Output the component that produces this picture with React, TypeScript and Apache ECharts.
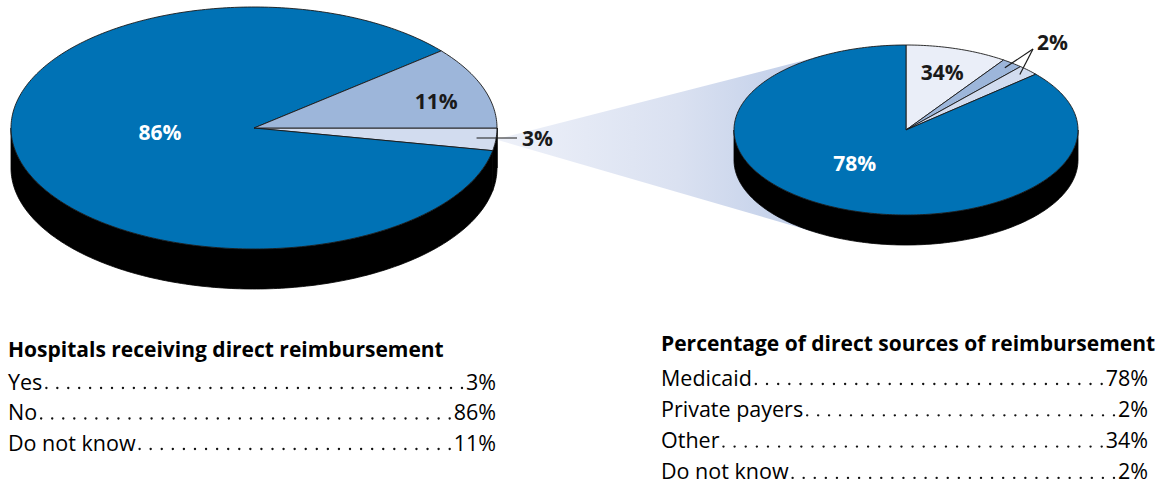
import React, { useEffect, useRef } from "react";
import * as echarts from "echarts";

// ---------- data ----------
const leftTitle = "Hospitals receiving direct reimbursement";
const leftNames = ["Yes", "No", "Do not know"];
const leftValues = [3, 86, 11];

const rightTitle = "Percentage of direct sources of reimbursement";
const rightNames = ["Medicaid", "Private payers", "Other", "Do not know"];
const rightValues = [78, 2, 34, 2];
// angular share of each slice as drawn in the published picture (its pie is not proportional to the labels)
const rightDrawnShare = [86.4, 2, 9.6, 2];

// order of slices clockwise from the start angle
const leftPieOrder = [0, 1, 2];
const rightPieOrder = [2, 1, 3, 0];

// ---------- styles ----------
const FONT = '"Open Sans", "Noto Sans", sans-serif';
const BLUE = "#0072b5";
const MID = "#9db6da";
const LIGHT = "#d2dcef";
const PALE = "#eaeef8";
const INK = "#1a1a1a";

const leftColors = [LIGHT, BLUE, MID];
const rightColors = [PALE, MID, LIGHT, BLUE];

type LabelStyle = {
  r: number;
  color: string;
  dx?: number;
  dy?: number;
  outside?: { anchorR: number; to: [number, number]; text?: [number, number]; flat?: boolean };
  hide?: boolean;
};

const leftLabels: LabelStyle[] = [
  { r: 0.92, color: INK, outside: { anchorR: 0.92, to: [263, 10], text: [268, 10], flat: true } },
  { r: 0.4, color: "#ffffff", dx: 0, dy: -8 },
  { r: 0.78, color: INK, dx: 4, dy: 5 },
];
const rightLabels: LabelStyle[] = [
  { r: 0.71, color: INK },
  { r: 0.93, color: INK, outside: { anchorR: 0.93, to: [127, -81], text: [131, -88] } },
  { r: 0.93, color: INK, outside: { anchorR: 0.93, to: [127, -81] }, hide: true },
  { r: 0.55, color: "#ffffff", dx: -12, dy: -10 },
];

type Pie = { cx: number; cy: number; rx: number; ry: number; depth: number };
const leftPie: Pie = { cx: 254, cy: 128, rx: 243, ry: 121, depth: 40 };
const rightPie: Pie = { cx: 906, cy: 130, rx: 172, ry: 85, depth: 30 };

const RAD = Math.PI / 180;

type Slice = { name: string; value: number; color: string; start: number; end: number; label: LabelStyle };

function buildSlices(
  names: string[],
  values: number[],
  shares: number[],
  order: number[],
  colors: string[],
  labels: LabelStyle[],
  startAngle: number
): Slice[] {
  const total = order.reduce((s, i) => s + shares[i], 0);
  let a = startAngle;
  return order.map((idx, k) => {
    const sweep = (shares[idx] / total) * 360;
    const s = { name: names[idx], value: values[idx], color: colors[k], start: a, end: a - sweep, label: labels[k] };
    a -= sweep;
    return s;
  });
}

function pt(P: Pie, a: number, r = 1, dz = 0): number[] {
  return [P.cx + P.rx * r * Math.cos(a * RAD), P.cy - P.ry * r * Math.sin(a * RAD) + dz];
}

function arcPts(P: Pie, a0: number, a1: number, dz = 0): number[][] {
  const n = Math.max(2, Math.ceil(Math.abs(a1 - a0) / 1));
  const out: number[][] = [];
  for (let i = 0; i <= n; i++) out.push(pt(P, a0 + ((a1 - a0) * i) / n, 1, dz));
  return out;
}

function pieSeries(P: Pie, slices: Slice[]) {
  return {
    type: "custom",
    coordinateSystem: "none",
    silent: true,
    data: slices.map((s) => s.value),
    renderItem: (params: any) => {
      const s = slices[params.dataIndex];
      const children: any[] = [];
      // front side (depth) pieces
      for (const k of [-1, 0, 1]) {
        const lo = Math.max(s.end, -180 + 360 * k);
        const hi = Math.min(s.start, 360 * k);
        if (lo < hi) {
          const top = arcPts(P, lo, hi, 0);
          const bot = arcPts(P, hi, lo, P.depth);
          children.push({
            type: "polygon",
            shape: { points: top.concat(bot) },
            style: { fill: "#000000", stroke: "#000000", lineWidth: 0.8 },
            z2: 1,
          });
        }
      }
      // top face
      const face = [[P.cx, P.cy]].concat(arcPts(P, s.start, s.end, 0));
      children.push({
        type: "polygon",
        shape: { points: face },
        style: { fill: s.color, stroke: INK, lineWidth: 0.9, lineJoin: "round" },
        z2: 2,
      });
      // label
      const L = s.label;
      const mid = (s.start + s.end) / 2;
      const font = `bold 21px ${FONT}`;
      if (L.outside) {
        const a = pt(P, mid, L.outside.anchorR);
        const to = L.outside.to;
        const tx = P.cx + to[0];
        const ty = P.cy + to[1];
        children.push({
          type: "line",
          shape: { x1: a[0], y1: L.outside.flat ? ty : a[1], x2: tx, y2: ty },
          style: { stroke: INK, lineWidth: 1.2 },
          z2: 10,
        });
        if (!L.hide && L.outside.text) {
          children.push({
            type: "text",
            style: {
              text: `${s.value}%`,
              x: P.cx + L.outside.text[0],
              y: P.cy + L.outside.text[1],
              font,
              fill: L.color,
              align: "left",
              verticalAlign: "middle",
            },
            z2: 11,
          });
        }
      } else if (!L.hide) {
        const c = pt(P, mid, L.r);
        children.push({
          type: "text",
          style: {
            text: `${s.value}%`,
            x: c[0] + (L.dx || 0),
            y: c[1] + (L.dy || 0),
            font,
            fill: L.color,
            align: "center",
            verticalAlign: "middle",
          },
          z2: 11,
        });
      }
      return { type: "group", children };
    },
  };
}

function tangent(p: number[], cx: number, cy: number, rx: number, ry: number, sign: number): number[] {
  const ux = (p[0] - cx) / rx;
  const uy = (p[1] - cy) / ry;
  const d = Math.hypot(ux, uy);
  const phi = Math.atan2(uy, ux) + sign * Math.acos(1 / d);
  return [cx + rx * Math.cos(phi), cy + ry * Math.sin(phi)];
}

let measureCtx: CanvasRenderingContext2D | null = null;
function textWidth(text: string, font: string): number {
  if (!measureCtx) measureCtx = document.createElement("canvas").getContext("2d");
  measureCtx!.font = font;
  return measureCtx!.measureText(text).width;
}

function tableGraphics(
  title: string,
  names: string[],
  values: number[],
  x0: number,
  xRight: number,
  titleY: number,
  rowY0: number,
  rowGap: number
) {
  const els: any[] = [];
  const rowFont = `21.5px ${FONT}`;
  els.push({
    type: "text",
    style: { text: title, x: x0, y: titleY, font: `bold 21px ${FONT}`, fill: "#000", align: "left", verticalAlign: "middle" },
  });
  const target = 11;
  names.forEach((n, i) => {
    const y = rowY0 + i * rowGap;
    const val = `${values[i]}%`;
    els.push({ type: "text", style: { text: n, x: x0, y, font: rowFont, fill: "#000", align: "left", verticalAlign: "middle" } });
    els.push({ type: "text", style: { text: val, x: xRight, y, font: rowFont, fill: "#000", align: "right", verticalAlign: "middle" } });
    const nameEnd = x0 + textWidth(n, rowFont) + 4;
    const valStart = xRight - textWidth(val, rowFont) - 4;
    const count = Math.max(1, Math.round((valStart - nameEnd) / target));
    const spacing = (valStart - nameEnd) / count;
    els.push({
      type: "line",
      shape: { x1: nameEnd, y1: y + 7, x2: valStart + 0.5, y2: y + 7 },
      style: { stroke: "#111", lineWidth: 2.3, lineDash: [0.1, spacing - 0.1], lineCap: "round" },
    });
  });
  return els;
}

export default function App() {
  const ref = useRef<HTMLDivElement>(null);
  useEffect(() => {
    if (!ref.current) return;
    const chart = echarts.init(ref.current, undefined, { renderer: "svg" });

    const leftSlices = buildSlices(leftNames, leftValues, leftValues, leftPieOrder, leftColors, leftLabels, 0);
    const rightSlices = buildSlices(rightNames, rightValues, rightDrawnShare, rightPieOrder, rightColors, rightLabels, 90);

    // fan from the small "Yes" slice to the detail pie
    const yes = leftSlices[0];
    const apex = pt(leftPie, (yes.start + yes.end) / 2, 1.0);
    const up = tangent(apex, rightPie.cx, rightPie.cy, rightPie.rx, rightPie.ry, 1);
    const low = tangent(apex, rightPie.cx, rightPie.cy + rightPie.depth, rightPie.rx, rightPie.ry, -1);

    const graphics: any[] = [
      {
        type: "polygon",
        z: -1,
        shape: { points: [apex, up, [rightPie.cx, rightPie.cy], low] },
        style: {
          fill: {
            type: "linear",
            x: apex[0],
            y: 0,
            x2: up[0],
            y2: 0,
            global: true,
            colorStops: [
              { offset: 0, color: "#eef1f9" },
              { offset: 0.55, color: "#dae1f1" },
              { offset: 1, color: "#bccbe7" },
            ],
          },
        },
      },
      ...tableGraphics(leftTitle, leftNames, leftValues, 8, 496, 349, 381, 30.5),
      ...tableGraphics(rightTitle, rightNames, rightValues, 661, 1148, 343, 377, 31.3),
    ];

    chart.setOption({
      animation: false,
      backgroundColor: "#ffffff",
      graphic: graphics,
      series: [pieSeries(leftPie, leftSlices), pieSeries(rightPie, rightSlices)],
    });
    return () => chart.dispose();
  }, []);
  return <div ref={ref} style={{ position: "fixed", left: 0, top: 0, width: 1168, height: 485 }} />;
}
